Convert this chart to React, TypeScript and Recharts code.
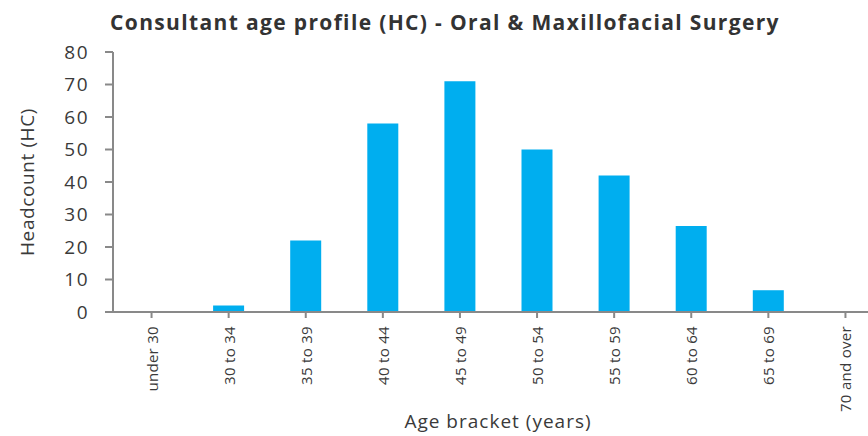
import React from 'react'
import { BarChart, Bar, XAxis, YAxis } from 'recharts'

// age brackets on the x axis
const AGE_BRACKETS = [
  'under 30',
  '30 to 34',
  '35 to 39',
  '40 to 44',
  '45 to 49',
  '50 to 54',
  '55 to 59',
  '60 to 64',
  '65 to 69',
  '70 and over'
]

// headcount
const HEADCOUNT = [0, 2, 22, 58, 71, 50, 42, 26.5, 6.7, 0]

const Y_TICKS = [0, 10, 20, 30, 40, 50, 60, 70, 80]

const TITLE = 'Consultant age profile (HC) - Oral & Maxillofacial Surgery'
const Y_LABEL = 'Headcount (HC)'
const X_LABEL = 'Age bracket (years)'

const FONT = '"Open Sans", "DejaVu Sans", sans-serif'
const AXIS_GREY = '#898989'
const TEXT_DARK = '#3a3a3a'
const BAR_BLUE = '#00AEEF'

const W = 890
const H = 436

const data = AGE_BRACKETS.map((bracket, i) => ({ bracket, hc: HEADCOUNT[i] }))

function BracketTick({ x, y, payload }: any) {
  const ty = y + 6
  return (
    <text
      x={x}
      y={ty}
      transform={`rotate(-90 ${x} ${ty})`}
      textAnchor="end"
      dominantBaseline="central"
      fontFamily={FONT}
      fontSize={15}
      letterSpacing={0.3}
      fill={TEXT_DARK}
    >
      {payload.value}
    </text>
  )
}

export default function App() {
  return (
    <div
      style={{
        position: 'absolute',
        left: 0,
        top: 0,
        width: 868,
        height: 436,
        overflow: 'hidden',
        background: '#fff'
      }}
    >
      <div
        style={{
          position: 'absolute',
          left: 0,
          top: 8,
          width: W,
          textAlign: 'center',
          fontFamily: FONT,
          fontWeight: 700,
          fontSize: 21,
          letterSpacing: 1.35,
          color: '#333',
          whiteSpace: 'nowrap'
        }}
      >
        {TITLE}
      </div>
      <BarChart
        width={W}
        height={H}
        data={data}
        margin={{ top: 52, right: 6, left: 0, bottom: 0 }}
        barCategoryGap={0}
        style={{ position: 'absolute', left: 0, top: 0 }}
      >
        <XAxis
          dataKey="bracket"
          height={124}
          interval={0}
          tickSize={6}
          stroke={AXIS_GREY}
          strokeWidth={2}
          tick={<BracketTick />}
          label={{
            content: () => (
              <text
                x={498}
                y={421}
                textAnchor="middle"
                dominantBaseline="central"
                fontFamily={FONT}
                fontSize={19}
                letterSpacing={1}
                fill={TEXT_DARK}
              >
                {X_LABEL}
              </text>
            )
          }}
        />
        <YAxis
          width={113}
          domain={[0, 80]}
          ticks={Y_TICKS}
          interval={0}
          tickSize={8}
          tickMargin={16}
          stroke={AXIS_GREY}
          strokeWidth={2}
          tick={{ fontFamily: FONT, fontSize: 19, letterSpacing: 1.5, fill: TEXT_DARK }}
          label={{
            content: () => (
              <text
                x={27}
                y={182}
                transform="rotate(-90 27 182)"
                textAnchor="middle"
                dominantBaseline="central"
                fontFamily={FONT}
                fontSize={19}
                letterSpacing={0.6}
                fill={TEXT_DARK}
              >
                {Y_LABEL}
              </text>
            )
          }}
        />
        <Bar dataKey="hc" fill={BAR_BLUE} barSize={31} isAnimationActive={false} />
      </BarChart>
    </div>
  )
}
